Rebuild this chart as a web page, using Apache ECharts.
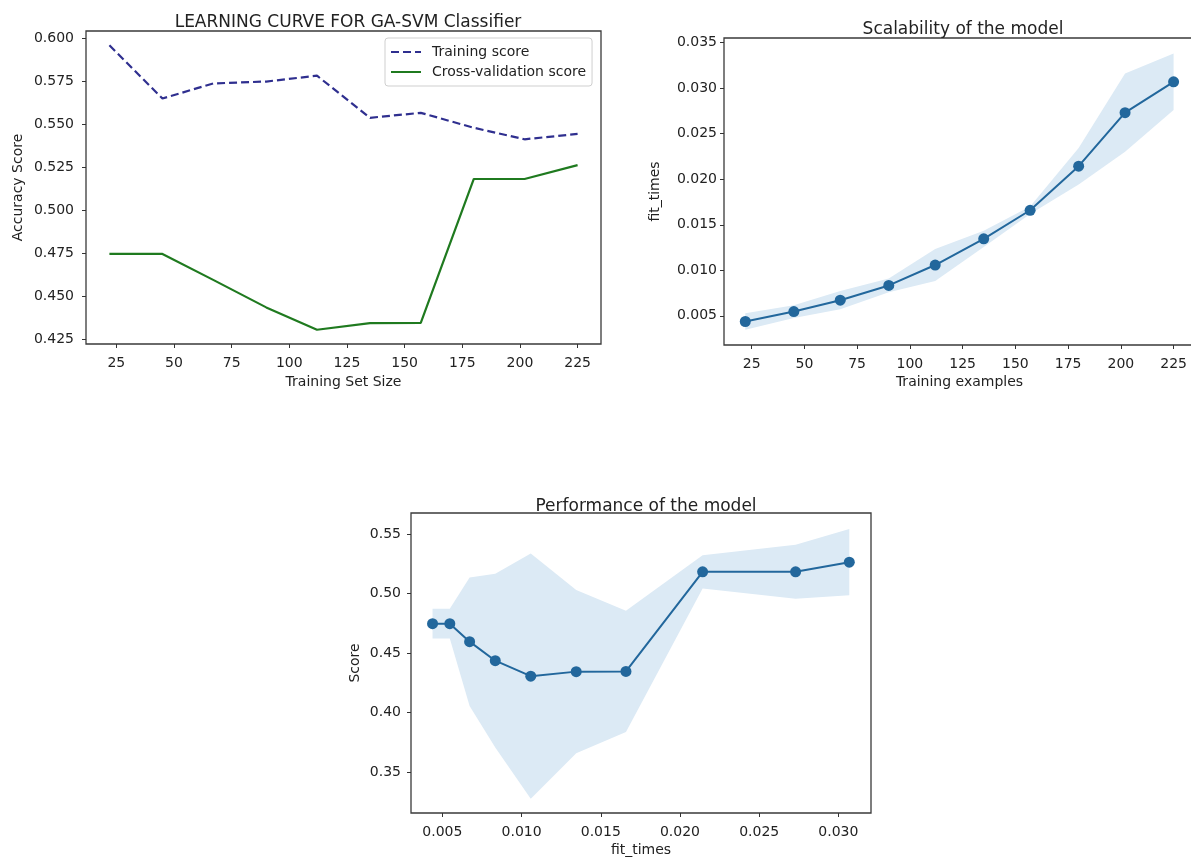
<!DOCTYPE html>
<html>
<head>
<meta charset="utf-8">
<title>GA-SVM learning curve</title>
<script src="https://cdn.jsdelivr.net/npm/echarts@6/dist/echarts.min.js"></script>
<style>
  html, body { margin: 0; padding: 0; background: #fff; overflow: hidden; }
  #chart { width: 1191px; height: 861px; }
</style>
</head>
<body>
<div id="chart"></div>
<script>
// Learning-curve results for the GA-SVM classifier
const trainSizes = [22, 45, 67, 90, 112, 135, 157, 180, 202, 225];
const trainScoreMean = [0.596, 0.565, 0.5738, 0.5749, 0.5783, 0.5538, 0.5567, 0.548, 0.5413, 0.5444];
const cvScoreMean = [0.4746, 0.4746, 0.4595, 0.4435, 0.4305, 0.4343, 0.4345, 0.5182, 0.5182, 0.5263];
const cvScoreStd = [0.0125, 0.0125, 0.054, 0.073, 0.103, 0.0685, 0.051, 0.014, 0.0227, 0.0278];
const fitTimesMean = [0.00438, 0.00547, 0.00672, 0.00834, 0.01058, 0.01345, 0.01659, 0.02143, 0.0273, 0.03069];
const fitTimesStd = [0.0009, 0.0007, 0.001, 0.00075, 0.00175, 0.0009, 0.0004, 0.002, 0.0043, 0.0031];

// Tick positions
const sizeTicks = [25, 50, 75, 100, 125, 150, 175, 200, 225];
const accuracyTicks = [0.425, 0.450, 0.475, 0.500, 0.525, 0.550, 0.575, 0.600];
const fitTimeTicks = [0.005, 0.010, 0.015, 0.020, 0.025, 0.030, 0.035];
const fitTimeXTicks = [0.005, 0.010, 0.015, 0.020, 0.025, 0.030];
const scoreTicks = [0.35, 0.40, 0.45, 0.50, 0.55];

const FONT = 'DejaVu Sans';
const TEXT = '#222';
const BLUE = '#22679c';
const BAND = 'rgb(220,234,245)';

function valueAxis(gridIndex, min, max, ticks, digits, margin, name, nameGap) {
  return {
    type: 'value',
    gridIndex: gridIndex,
    min: min,
    max: max,
    name: name,
    nameLocation: 'middle',
    nameGap: nameGap,
    nameTextStyle: { fontFamily: FONT, fontSize: 14, color: TEXT },
    splitLine: { show: false },
    axisLine: { show: false },
    axisTick: { show: true, inside: false, length: 4, customValues: ticks,
                lineStyle: { color: '#333', width: 1 } },
    axisLabel: { customValues: ticks, margin: margin, fontFamily: FONT, fontSize: 14, color: TEXT,
                 formatter: v => Number(v).toFixed(digits) }
  };
}

// Shaded mean ± std band drawn as one polygon through the axis scales
function bandSeries(xs, mean, std, xAxisIndex, yAxisIndex) {
  const lo = mean.map((m, i) => m - std[i]);
  const hi = mean.map((m, i) => m + std[i]);
  return {
    type: 'custom',
    xAxisIndex: xAxisIndex,
    yAxisIndex: yAxisIndex,
    silent: true,
    z: 1,
    data: xs.map((x, i) => [x, lo[i], hi[i]]),
    encode: { x: 0, y: [1, 2] },
    renderItem: function (params, api) {
      if (params.dataIndex !== 0) return null;
      const pts = [];
      for (let i = 0; i < xs.length; i++) pts.push(api.coord([xs[i], hi[i]]));
      for (let i = xs.length - 1; i >= 0; i--) pts.push(api.coord([xs[i], lo[i]]));
      return { type: 'polygon', shape: { points: pts }, style: { fill: BAND } };
    }
  };
}

const frame = { show: true, borderColor: '#3a3a3a', borderWidth: 1.3, backgroundColor: '#fff',
                outerBoundsMode: 'none', containLabel: false };

const chart = echarts.init(document.getElementById('chart'), null, { renderer: 'canvas' });

chart.setOption({
  backgroundColor: '#fff',
  animation: false,
  title: [
    { text: 'LEARNING CURVE FOR GA-SVM Classifier', left: 343, top: 9, textAlign: 'center',
      textStyle: { fontFamily: FONT, fontSize: 17, fontWeight: 'normal', color: TEXT } },
    { text: 'Scalability of the model', left: 958, top: 16, textAlign: 'center',
      textStyle: { fontFamily: FONT, fontSize: 17, fontWeight: 'normal', color: TEXT } },
    { text: 'Performance of the model', left: 641, top: 493, textAlign: 'center',
      textStyle: { fontFamily: FONT, fontSize: 17, fontWeight: 'normal', color: TEXT } }
  ],
  legend: {
    data: ['Training score', 'Cross-validation score'],
    orient: 'vertical',
    left: 385,
    top: 38,
    itemWidth: 30,
    itemHeight: 14,
    itemGap: 6,
    padding: [7, 6, 7, 5],
    backgroundColor: '#fff',
    borderColor: '#cfcfcf',
    borderWidth: 1,
    borderRadius: 3,
    itemStyle: { opacity: 0 },
    textStyle: { fontFamily: FONT, fontSize: 14, color: TEXT, padding: [0, 0, 0, 6] }
  },
  grid: [
    Object.assign({ left: 86, top: 31, width: 515, height: 313 }, frame),
    Object.assign({ left: 724, top: 38, width: 471, height: 307 }, frame),
    Object.assign({ left: 411, top: 513, width: 460, height: 300 }, frame)
  ],
  xAxis: [
    valueAxis(0, 11.85, 235.15, sizeTicks, 0, 12, 'Training Set Size', 31),
    valueAxis(1, 11.9, 235.15, sizeTicks, 0, 12, 'Training examples', 30),
    valueAxis(2, 0.00302, 0.03206, fitTimeXTicks, 3, 12, 'fit_times', 30)
  ],
  yAxis: [
    valueAxis(0, 0.4222, 0.6043, accuracyTicks, 3, 12, 'Accuracy Score', 61),
    valueAxis(1, 0.0018, 0.0355, fitTimeTicks, 3, 7, 'fit_times', 62),
    valueAxis(2, 0.3155, 0.5676, scoreTicks, 2, 10, 'Score', 49)
  ],
  series: [
    {
      name: 'Training score',
      type: 'line',
      xAxisIndex: 0, yAxisIndex: 0,
      data: trainSizes.map((s, i) => [s, trainScoreMean[i]]),
      symbol: 'none',
      color: '#2f2f8f',
      lineStyle: { color: '#2f2f8f', width: 2.2, type: [8, 4] },
      z: 3
    },
    {
      name: 'Cross-validation score',
      type: 'line',
      xAxisIndex: 0, yAxisIndex: 0,
      data: trainSizes.map((s, i) => [s, cvScoreMean[i]]),
      symbol: 'none',
      color: '#1f7a1f',
      lineStyle: { color: '#1f7a1f', width: 2.2 },
      z: 3
    },
    bandSeries(trainSizes, fitTimesMean, fitTimesStd, 1, 1),
    {
      type: 'line',
      xAxisIndex: 1, yAxisIndex: 1,
      data: trainSizes.map((s, i) => [s, fitTimesMean[i]]),
      symbol: 'circle', symbolSize: 11, showSymbol: true,
      itemStyle: { color: BLUE },
      lineStyle: { color: BLUE, width: 2 },
      z: 3
    },
    bandSeries(fitTimesMean, cvScoreMean, cvScoreStd, 2, 2),
    {
      type: 'line',
      xAxisIndex: 2, yAxisIndex: 2,
      data: fitTimesMean.map((t, i) => [t, cvScoreMean[i]]),
      symbol: 'circle', symbolSize: 11, showSymbol: true,
      itemStyle: { color: BLUE },
      lineStyle: { color: BLUE, width: 2 },
      z: 3
    }
  ]
});
</script>
</body>
</html>
